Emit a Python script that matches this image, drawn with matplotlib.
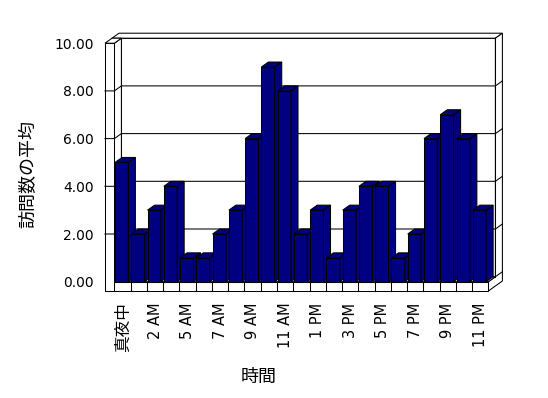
import matplotlib.pyplot as plt
from matplotlib.patches import Polygon

plt.rcParams['font.family'] = ['DejaVu Sans', 'Noto Sans CJK JP']

hours = ['真夜中', '1 AM', '2 AM', '3 AM', '5 AM', '6 AM', '7 AM', '8 AM', '9 AM',
         '10 AM', '11 AM', '正午', '1 PM', '2 PM', '3 PM', '4 PM', '5 PM', '6 PM',
         '7 PM', '8 PM', '9 PM', '10 PM', '11 PM']
visits = [5, 2, 3, 4, 1, 1, 2, 3, 6, 9, 8, 2, 3, 1, 3, 4, 4, 1, 2, 6, 7, 6, 3]
y_ticks = [0, 2, 4, 6, 8, 10]

W, H = 548, 398
fig = plt.figure(figsize=(W / 100, H / 100), dpi=100)
# front plane of the plot: x from 114.4px to 488.4px, value 0 at 281.7px, 10 at 43.2px
ax = fig.add_axes([114.4 / W, (H - 281.7) / H, 374 / W, 238.5 / H])
n = len(visits)
x_lo, x_hi = -0.5, n - 0.5
y_top = 10
ax.set_xlim(x_lo, x_hi)
ax.set_ylim(0, y_top)

# depth offset (7px right, 5px up) in data units
dx = 7 / (374 / n)
dy = 5 / 23.85
wall = 9.4 / (374 / n)   # left wall thickness
floor = 9.3 / 23.85      # floor thickness
x_out = x_lo - wall

navy = '#000080'
lw = 0.75
kw = dict(closed=True, ec='black', lw=lw, clip_on=False, joinstyle='miter')

# back wall, its top and right side (with floor's right side)
ax.add_patch(Polygon([(x_lo + dx, dy), (x_hi + dx, dy), (x_hi + dx, y_top + dy),
                      (x_lo + dx, y_top + dy)], fc='white', zorder=1, **kw))
ax.add_patch(Polygon([(x_out + dx, y_top + dy), (x_hi + dx, y_top + dy),
                      (x_hi + 2 * dx, y_top + 2 * dy), (x_out + 2 * dx, y_top + 2 * dy)],
                     fc='white', zorder=1, **kw))
ax.add_patch(Polygon([(x_hi, -floor), (x_hi, 0), (x_hi + dx, dy), (x_hi + dx, y_top + dy),
                      (x_hi + 2 * dx, y_top + 2 * dy), (x_hi + 2 * dx, 2 * dy - floor)],
                     fc='white', zorder=1, **kw))
ax.plot([x_hi + dx, x_hi + dx], [dy, y_top + dy], color='black', lw=lw, zorder=1.1, clip_on=False)

# gridlines on the walls
for v in y_ticks[:-1]:
    ax.plot([x_lo + dx, x_hi + dx, x_hi + 2 * dx], [v + dy, v + dy, v + 2 * dy],
            color='black', lw=lw, zorder=1.2, clip_on=False)

# floor top and front
ax.add_patch(Polygon([(x_lo, 0), (x_hi, 0), (x_hi + dx, dy), (x_lo + dx, dy)],
                     fc='white', zorder=1.3, **kw))
ax.add_patch(Polygon([(x_lo, -floor), (x_hi, -floor), (x_hi, 0), (x_lo, 0)],
                     fc='white', zorder=1.3, **kw))
for k in range(1, n):
    ax.plot([k - 0.5, k - 0.5], [-floor, 0], color='black', lw=lw, zorder=1.4, clip_on=False)

# left wall: inner side, front face, top
ax.add_patch(Polygon([(x_lo, 0), (x_lo + dx, dy), (x_lo + dx, y_top + dy), (x_lo, y_top)],
                     fc='white', zorder=1.5, **kw))
ax.add_patch(Polygon([(x_out, -floor), (x_lo, -floor), (x_lo, y_top), (x_out, y_top)],
                     fc='white', zorder=1.5, **kw))
ax.add_patch(Polygon([(x_out, y_top), (x_lo, y_top), (x_lo + dx, y_top + dy),
                      (x_out + dx, y_top + dy)], fc='white', zorder=1.5, **kw))
for v in y_ticks[1:-1]:
    ax.plot([x_out, x_lo, x_lo + dx], [v, v, v + dy], color='black', lw=lw,
            zorder=1.6, clip_on=False)

# bars, drawn left to right so each front hides the previous side
bw = 0.82
bars = ax.bar([i - 0.05 for i in range(n)], visits, width=bw, color=navy,
              edgecolor='black', lw=lw, clip_on=False)
for i, (b, v) in enumerate(zip(bars, visits)):
    z = 3 + i * 0.01
    b.set_zorder(z)
    x0 = b.get_x()
    x1 = x0 + bw
    ax.add_patch(Polygon([(x1, 0), (x1 + dx, dy), (x1 + dx, v + dy), (x1, v)],
                         fc=navy, zorder=z, **kw))
    ax.add_patch(Polygon([(x0, v), (x1, v), (x1 + dx, v + dy), (x0 + dx, v + dy)],
                         fc=navy, zorder=z, **kw))

for s in ax.spines.values():
    s.set_visible(False)
ax.set_yticks(y_ticks, labels=[f'{v:.2f}' for v in y_ticks])
ax.set_xticks(range(0, n, 2), labels=hours[::2], rotation=90)
ax.tick_params(axis='y', length=0, pad=15, labelsize=10)
ax.tick_params(axis='x', length=0, pad=15, labelsize=10.5)
ax.get_xticklabels()[0].set_fontsize(12)
ax.patch.set_visible(False)

fig.text(28.5 / W, 1 - 174 / H, '訪問数の平均', rotation=90, ha='center', va='center', fontsize=13)
fig.text(259 / W, 1 - 377 / H, '時間', ha='center', va='center', fontsize=13)

fig.savefig('out.png', dpi=100)
